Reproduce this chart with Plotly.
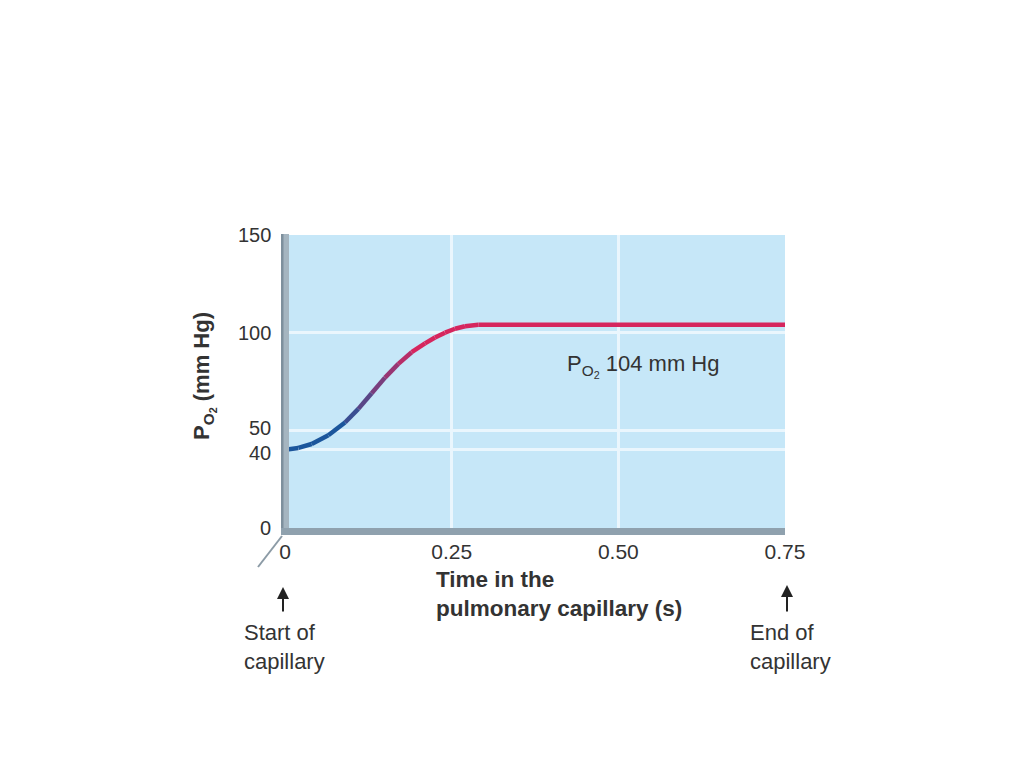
import plotly.graph_objects as go
import numpy as np

# ---- data ----
time_s = [0.0, 0.02, 0.04, 0.065, 0.09, 0.11, 0.13, 0.15, 0.17, 0.19, 0.21, 0.225, 0.24, 0.255, 0.27, 0.29, 0.75]
po2 = [40, 41, 43, 47.5, 54, 61, 69, 77, 84, 90, 94.5, 97.5, 100, 102, 103.3, 104, 104]
x_ticks = [0, 0.25, 0.50, 0.75]
x_ticklabels = ["0", "0.25", "0.50", "0.75"]
y_ticks = [0, 40, 50, 100, 150]
y_ticklabels = ["0", "40", "50", "100", "150"]

W, H = 1024, 767
# plot area in page pixels (reference coords); the page body has an 8px margin
L, R, T, B = 285, 785, 235, 528
OFF = 8


def px(x):
    return (x - L) / (R - L)


def py(y):
    return (B - y) / (B - T)


blue = np.array([27, 86, 156])
mag = np.array([214, 38, 94])


def seg_color(tm):
    f = min(max((tm - 0.08) / 0.12, 0.0), 1.0)
    c = blue * (1 - f) + mag * f
    return "rgb(%d,%d,%d)" % tuple(c.round().astype(int))


fig = go.Figure()
for i in range(len(time_s) - 1):
    tm = 0.5 * (time_s[i] + time_s[i + 1])
    fig.add_trace(go.Scatter(
        x=[time_s[i], time_s[i + 1]], y=[po2[i], po2[i + 1]],
        mode="lines", line=dict(color=seg_color(tm), width=4.5),
        showlegend=False, hoverinfo="skip"))

font = "Liberation Sans, Arial, sans-serif"
txt = "#333333"

fig.update_layout(
    width=W, height=H,
    margin=dict(l=L - OFF, r=W - R + OFF, t=T - OFF, b=H - B + OFF, pad=0),
    paper_bgcolor="white", plot_bgcolor="#c6e7f8",
    font=dict(family=font, size=20, color=txt),
    showlegend=False,
    xaxis=dict(range=[0, 0.75], tickvals=x_ticks, ticktext=x_ticklabels,
               showgrid=True, gridcolor="#eaf6fd", gridwidth=3,
               zeroline=False, showline=False,
               ticks="outside", ticklen=5, tickcolor="rgba(0,0,0,0)",
               tickfont=dict(size=21, color=txt)),
    yaxis=dict(range=[0, 150], tickvals=y_ticks, showticklabels=False,
               showgrid=True, gridcolor="#eaf6fd", gridwidth=3,
               zeroline=False, showline=False),
)

shapes = [
    # left axis bar
    dict(type="rect", xref="paper", yref="paper", x0=px(281), x1=px(289), y0=py(535), y1=py(234),
         fillcolor="#a5b5c0", line=dict(width=0), layer="above"),
    dict(type="rect", xref="paper", yref="paper", x0=px(281), x1=px(283.5), y0=py(535), y1=py(234),
         fillcolor="#7e909d", line=dict(width=0), layer="above"),
    # bottom axis bar
    dict(type="rect", xref="paper", yref="paper", x0=px(281), x1=px(785), y0=py(535), y1=py(528),
         fillcolor="#8fa1ae", line=dict(width=0), layer="above"),
    # diagonal break line
    dict(type="line", xref="paper", yref="paper", x0=px(258), y0=py(567), x1=px(282), y1=py(536),
         line=dict(color="#8c9ba6", width=2), layer="above"),
]
fig.update_layout(shapes=shapes)

ann = []
# y tick labels (40 and 50 nudged apart as in the reference)
label_shift = {40: -3, 50: 2}
for v, t in zip(y_ticks, y_ticklabels):
    ann.append(dict(text=t, xref="paper", yref="y", x=px(273), y=v, yshift=label_shift.get(v, 0),
                    xanchor="right", yanchor="middle", showarrow=False,
                    font=dict(size=20, color=txt)))

ann += [
    dict(text="<b>P<sub>O<sub>2</sub></sub> (mm Hg)</b>", textangle=-90,
         xref="paper", yref="paper", x=px(204), y=py(376), xanchor="center", yanchor="middle",
         showarrow=False, font=dict(size=22, color=txt)),
    dict(text="<b>Time in the<br>pulmonary capillary (s)</b>", align="left",
         xref="paper", yref="paper", x=px(434), y=py(565), xanchor="left", yanchor="top",
         showarrow=False, font=dict(size=22.5, color=txt)),
    dict(text="P<sub>O<sub>2</sub></sub> 104 mm Hg", align="left",
         xref="paper", yref="paper", x=px(565), y=py(366), xanchor="left", yanchor="middle",
         showarrow=False, font=dict(size=22, color=txt)),
    dict(text="Start of<br>capillary", align="left",
         xref="paper", yref="paper", x=px(242), y=py(618), xanchor="left", yanchor="top",
         showarrow=False, font=dict(size=22, color=txt)),
    dict(text="End of<br>capillary", align="left",
         xref="paper", yref="paper", x=px(748), y=py(618), xanchor="left", yanchor="top",
         showarrow=False, font=dict(size=22, color=txt)),
    dict(text="", xref="paper", yref="paper", x=px(283), y=py(587),
         ax=0, ay=26, axref="pixel", ayref="pixel", showarrow=True,
         arrowhead=2, arrowsize=1.2, arrowwidth=2, arrowcolor="#222222"),
    dict(text="", xref="paper", yref="paper", x=px(787), y=py(585),
         ax=0, ay=28, axref="pixel", ayref="pixel", showarrow=True,
         arrowhead=2, arrowsize=1.2, arrowwidth=2, arrowcolor="#222222"),
]
fig.update_layout(annotations=ann)

fig.write_html("out.html")
